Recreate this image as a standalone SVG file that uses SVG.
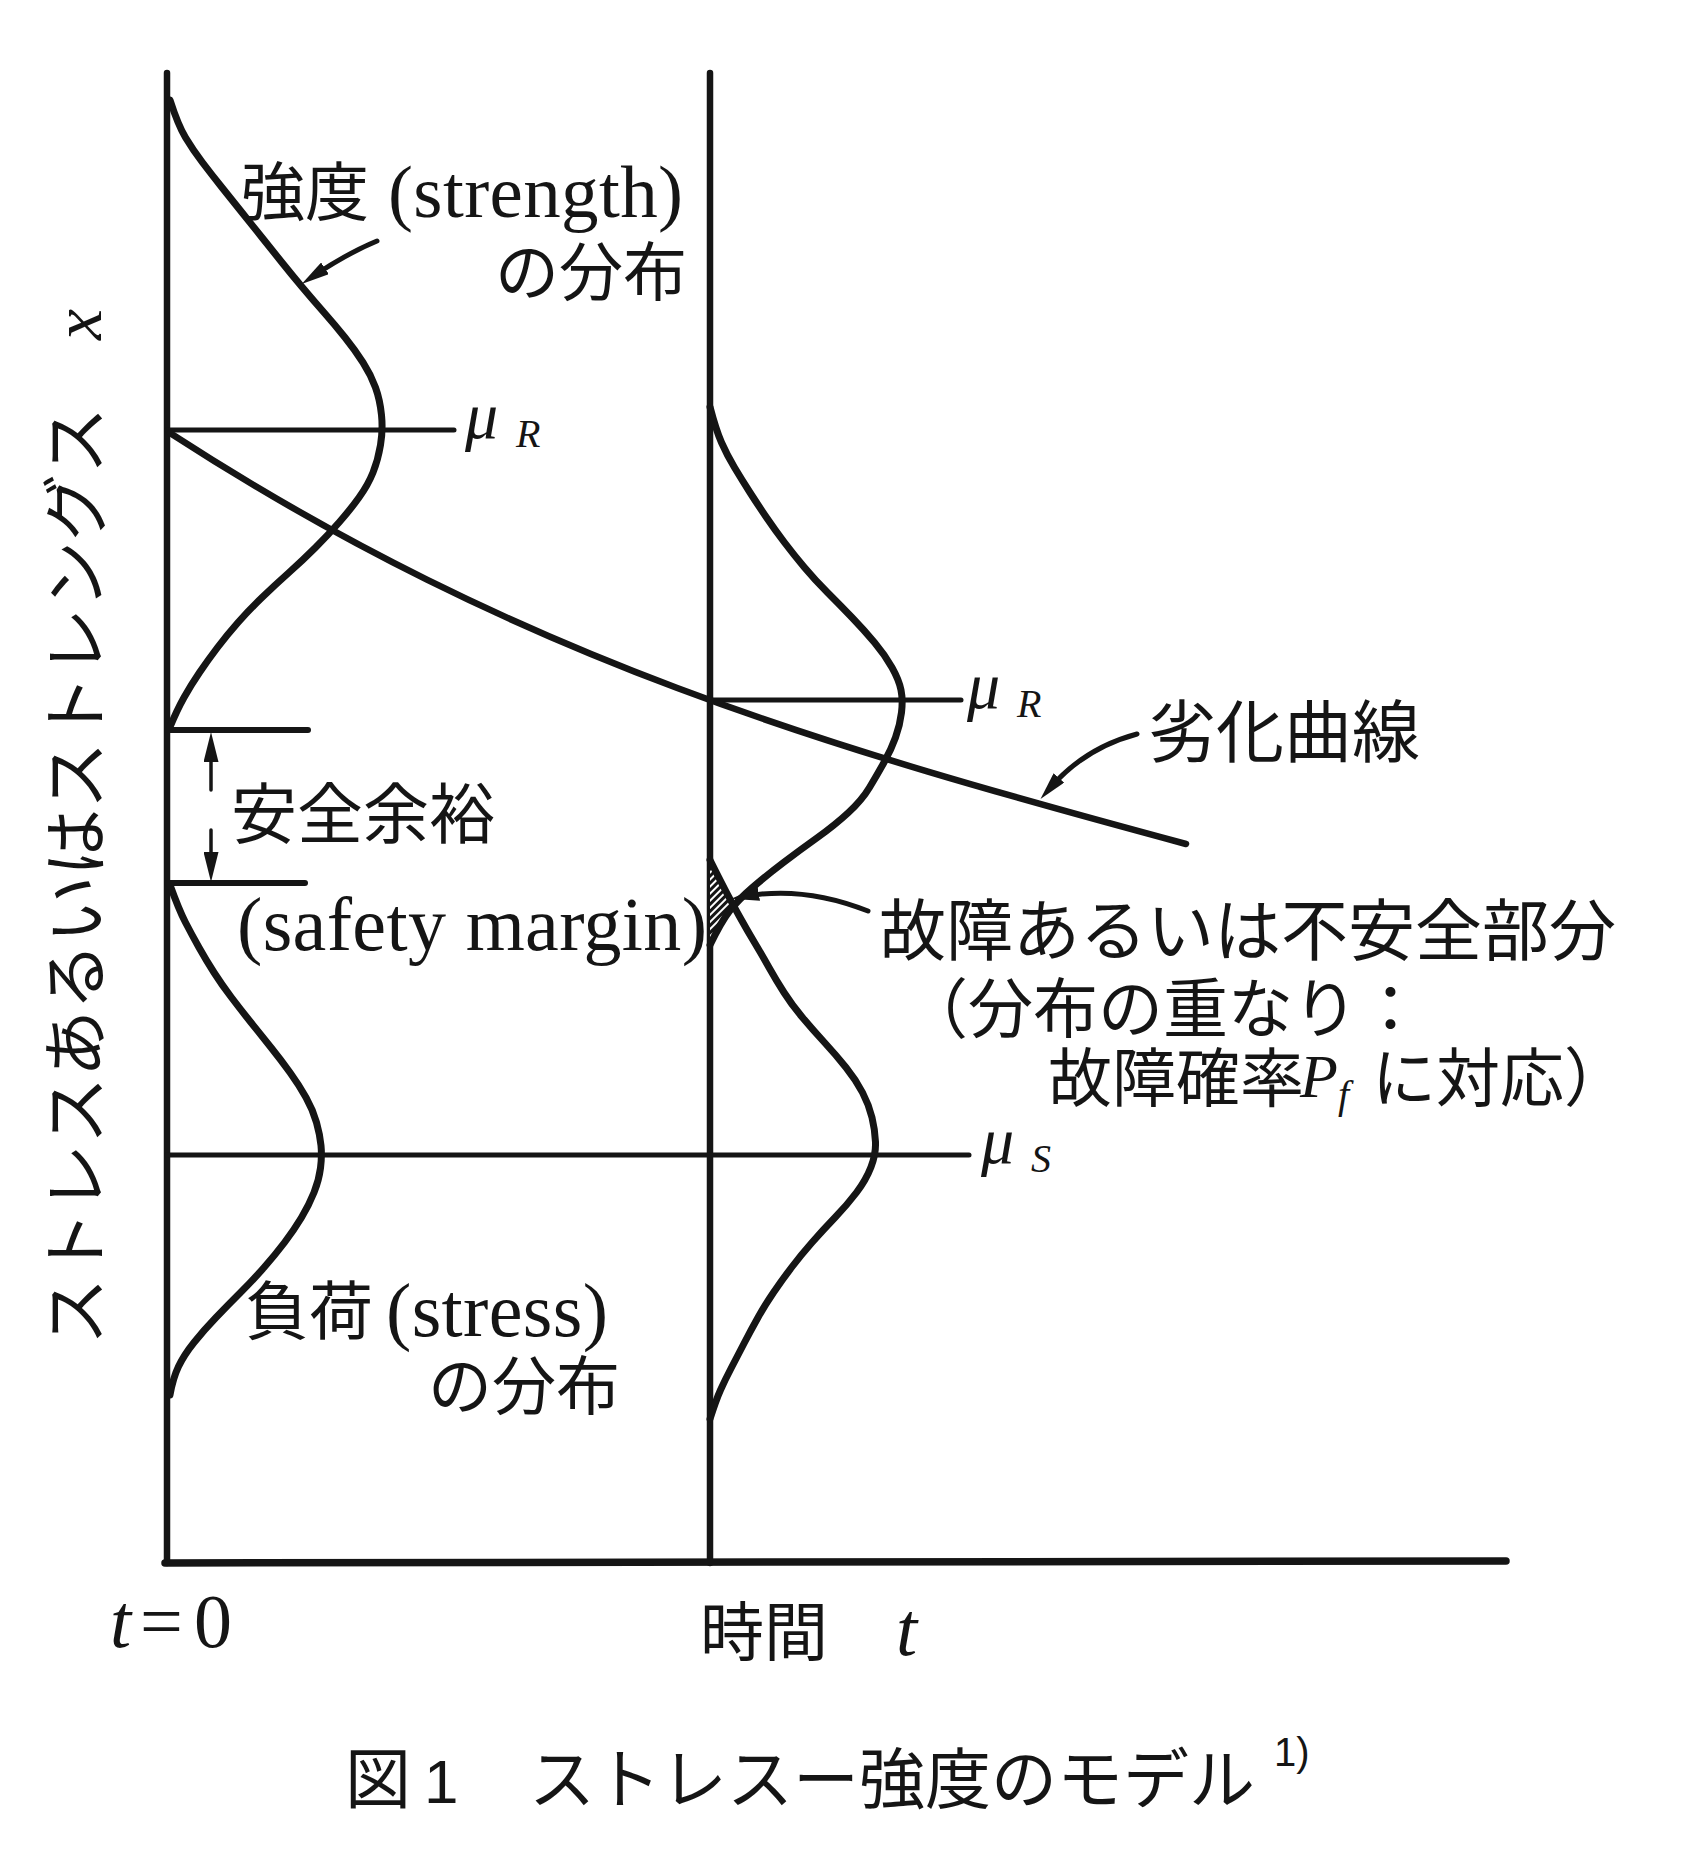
<svg xmlns="http://www.w3.org/2000/svg" width="1681" height="1869" viewBox="0 0 1681 1869">
<style>
.ln{fill:none;stroke:#151515;stroke-linecap:round;stroke-linejoin:round}
.ax{stroke-width:6.5}
.cv{stroke-width:7}
.mu{stroke-width:5}
.sm{stroke-width:6}
.ar{stroke-width:5;marker-end:url(#ah)}
.ars{stroke-width:3.5;marker-end:url(#ahs)}
.jp{font-family:"Noto Sans CJK JP",sans-serif;fill:#151515}
.lat{font-family:"Liberation Serif","Noto Sans CJK JP",serif;fill:#151515}
.sans{font-family:"Liberation Sans",sans-serif;fill:#151515}
.it{font-style:italic}
</style>
<defs>
<marker id="ah" viewBox="0 0 28 14" refX="12" refY="7" markerWidth="28" markerHeight="14" markerUnits="userSpaceOnUse" orient="auto"><path d="M0,0 L28,7 L0,14 Z" fill="#151515"/></marker>
<marker id="ahs" viewBox="0 0 30 15" refX="12" refY="7.5" markerWidth="30" markerHeight="15" markerUnits="userSpaceOnUse" orient="auto"><path d="M0,0 L30,7.5 L0,15 Z" fill="#151515"/></marker>
<pattern id="hatch" width="5" height="5" patternUnits="userSpaceOnUse" patternTransform="rotate(45)"><rect width="5" height="5" fill="#fff"/><rect width="3" height="5" fill="#151515"/></pattern>
</defs>
<rect width="1681" height="1869" fill="#fff"/>

<g id="axes">
<line class="ln ax" x1="167" y1="73" x2="167" y2="1563"/>
<line class="ln ax" x1="710" y1="73" x2="710" y2="1563"/>
<line class="ln" stroke-width="7.5" x1="165" y1="1563" x2="1506" y2="1561"/>
</g>

<g id="mean-lines">
<line class="ln mu" x1="167" y1="430" x2="454" y2="430"/>
<line class="ln mu" x1="710" y1="700" x2="961" y2="700"/>
<line class="ln mu" x1="167" y1="1155" x2="969" y2="1155"/>
</g>

<g id="failure-region">
<path d="M710,860 Q720,880 733,903 Q721,925 710,945 Z" fill="url(#hatch)"/>
</g>

<g id="strength-t0">
<path class="ln cv" d="M170,100 Q178,125 185.5,137.5 Q193,150 202.5,162.5 Q212,175 222,187.5 Q232,200 242,212.5 Q252,225 262,237.5 Q272,250 282,262.5 Q292,275 302.5,287.5 Q313,300 324,312.5 Q335,325 345,337.5 Q355,350 363,362.5 Q371,375 375.5,387.5 Q380,400 381.5,415 Q383,430 380.5,445 Q378,460 373,472.5 Q368,485 359,497.5 Q350,510 339,522.5 Q328,535 315.5,547.5 Q303,560 289,572.5 Q275,585 262,597.5 Q249,610 238,622.5 Q227,635 217.5,647.5 Q208,660 199.5,672.5 Q191,685 184,697.5 Q177,710 170,727"/>
</g>

<g id="stress-t0">
<path class="ln cv" d="M170,885 Q179,910 185.5,922.5 Q192,935 199,947.5 Q206,960 214,972.5 Q222,985 231.5,997.5 Q241,1010 251,1022.5 Q261,1035 271,1047.5 Q281,1060 290,1072.5 Q299,1085 306,1097.5 Q313,1110 316.5,1122.5 Q320,1135 321,1145.5 Q322,1156 320.5,1168 Q319,1180 314,1192.5 Q309,1205 301.5,1217.5 Q294,1230 284.5,1242.5 Q275,1255 264,1267.5 Q253,1280 240.5,1292.5 Q228,1305 216,1317.5 Q204,1330 194,1342.5 Q184,1355 178.5,1366.5 Q173,1378 170,1395"/>
</g>

<g id="strength-t">
<path class="ln cv" d="M710,407 Q716,430 721.5,442.5 Q727,455 734.5,467.5 Q742,480 750,492.5 Q758,505 766.5,517.5 Q775,530 784.5,542.5 Q794,555 804.5,567.5 Q815,580 827.5,592.5 Q840,605 852,617.5 Q864,630 874.5,642.5 Q885,655 892,667.5 Q899,680 901,690 Q903,700 901.5,712.5 Q900,725 895.5,737.5 Q891,750 884,762.5 Q877,775 869.5,787.5 Q862,800 848.5,812.5 Q835,825 817.5,837.5 Q800,850 783.5,862.5 Q767,875 752.5,887.5 Q738,900 729.5,911 Q721,922 710,945"/>
</g>

<g id="stress-t">
<path class="ln cv" d="M710,860 Q720,880 726,891.5 Q732,903 739.5,916.5 Q747,930 754.5,942.5 Q762,955 769,967.5 Q776,980 784,992.5 Q792,1005 802.5,1017.5 Q813,1030 824.5,1042.5 Q836,1055 846,1067.5 Q856,1080 862.5,1092.5 Q869,1105 872,1117.5 Q875,1130 875.5,1142 Q876,1154 871,1167 Q866,1180 856.5,1192.5 Q847,1205 835,1217.5 Q823,1230 812,1242.5 Q801,1255 791.5,1267.5 Q782,1280 773.5,1292.5 Q765,1305 758,1317.5 Q751,1330 744.5,1342.5 Q738,1355 731.5,1367.5 Q725,1380 720.5,1390 Q716,1400 710,1419"/>
</g>

<g id="degradation-curve">
<path class="ln" stroke-width="6.5" d="M170,433 C520,660 834,749 1186,844"/>
</g>

<g id="safety-margin">
<line class="ln sm" x1="167" y1="730" x2="308" y2="730"/>
<line class="ln sm" x1="167" y1="883" x2="305" y2="883"/>
</g>

<g id="connectors">
<path class="ln ars" d="M211,790 L211,750"/>
<path class="ln ars" d="M211,830 L211,864"/>
<path class="ln ar" d="M377,241 Q348,253 315,275"/>
<path class="ln ar" d="M1137,734 Q1085,748 1051,787"/>
<path class="ln ar" d="M868,911 Q805,886 747,896"/>
</g>

<g id="y-axis-label">
<text class="jp" font-size="67" transform="translate(100,1345) rotate(-90)">ストレスあるいはストレングス</text>
<text class="lat it" font-size="70" transform="translate(101,340) rotate(-90)">x</text>
</g>

<g id="label-strength">
<text class="jp" x="241" y="215" font-size="64">強度</text>
<text class="lat" x="388" y="217" font-size="75" textLength="295" lengthAdjust="spacing">(strength)</text>
<text class="jp" x="495" y="295" font-size="64">の分布</text>
</g>

<g id="label-muR-t0">
<text class="lat it" x="465" y="438" font-size="66">μ</text>
<text class="lat it" x="516" y="447" font-size="40">R</text>
</g>

<g id="label-muR-t">
<text class="lat it" x="967" y="708" font-size="66">μ</text>
<text class="lat it" x="1017" y="717" font-size="40">R</text>
</g>

<g id="label-muS">
<text class="lat it" x="981" y="1163" font-size="66">μ</text>
<text class="lat it" x="1031" y="1172" font-size="40">S</text>
</g>

<g id="label-degradation">
<text class="jp" x="1148" y="757" font-size="68">劣化曲線</text>
</g>

<g id="label-safety">
<text class="jp" x="231" y="838" font-size="66">安全余裕</text>
<text class="lat" x="237" y="950" font-size="76" textLength="470" lengthAdjust="spacing">(safety margin)</text>
</g>

<g id="label-failure">
<text class="jp" x="879" y="955" font-size="67">故障あるいは不安全部分</text>
<text class="jp" x="903" y="1032" font-size="65">（分布の重なり：</text>
<text class="jp" x="1048" y="1101" font-size="64">故障確率</text>
<text class="lat it" x="1300" y="1097" font-size="62">P</text>
<text class="lat it" x="1338" y="1108" font-size="40">f</text>
<text class="jp" x="1372" y="1101" font-size="64">に対応）</text>
</g>

<g id="label-stress">
<text class="jp" x="245" y="1334" font-size="64">負荷</text>
<text class="lat" x="386" y="1336" font-size="76" textLength="222" lengthAdjust="spacing">(stress)</text>
<text class="jp" x="428" y="1409" font-size="64">の分布</text>
</g>

<g id="label-t0">
<text class="lat" y="1647" font-size="76"><tspan class="it" x="110">t</tspan><tspan x="140">=</tspan><tspan x="194">0</tspan></text>
</g>

<g id="label-time">
<text class="jp" x="700" y="1655" font-size="64">時間</text>
<text class="lat it" x="896" y="1655" font-size="76">t</text>
</g>

<g id="caption">
<text class="jp" x="345" y="1803" font-size="66">図</text>
<text class="sans" x="424" y="1803" font-size="62">1</text>
<text class="jp" x="529" y="1803" font-size="66">ストレスー強度のモデル</text>
<text class="sans" x="1274" y="1766" font-size="40">1)</text>
</g>
</svg>
